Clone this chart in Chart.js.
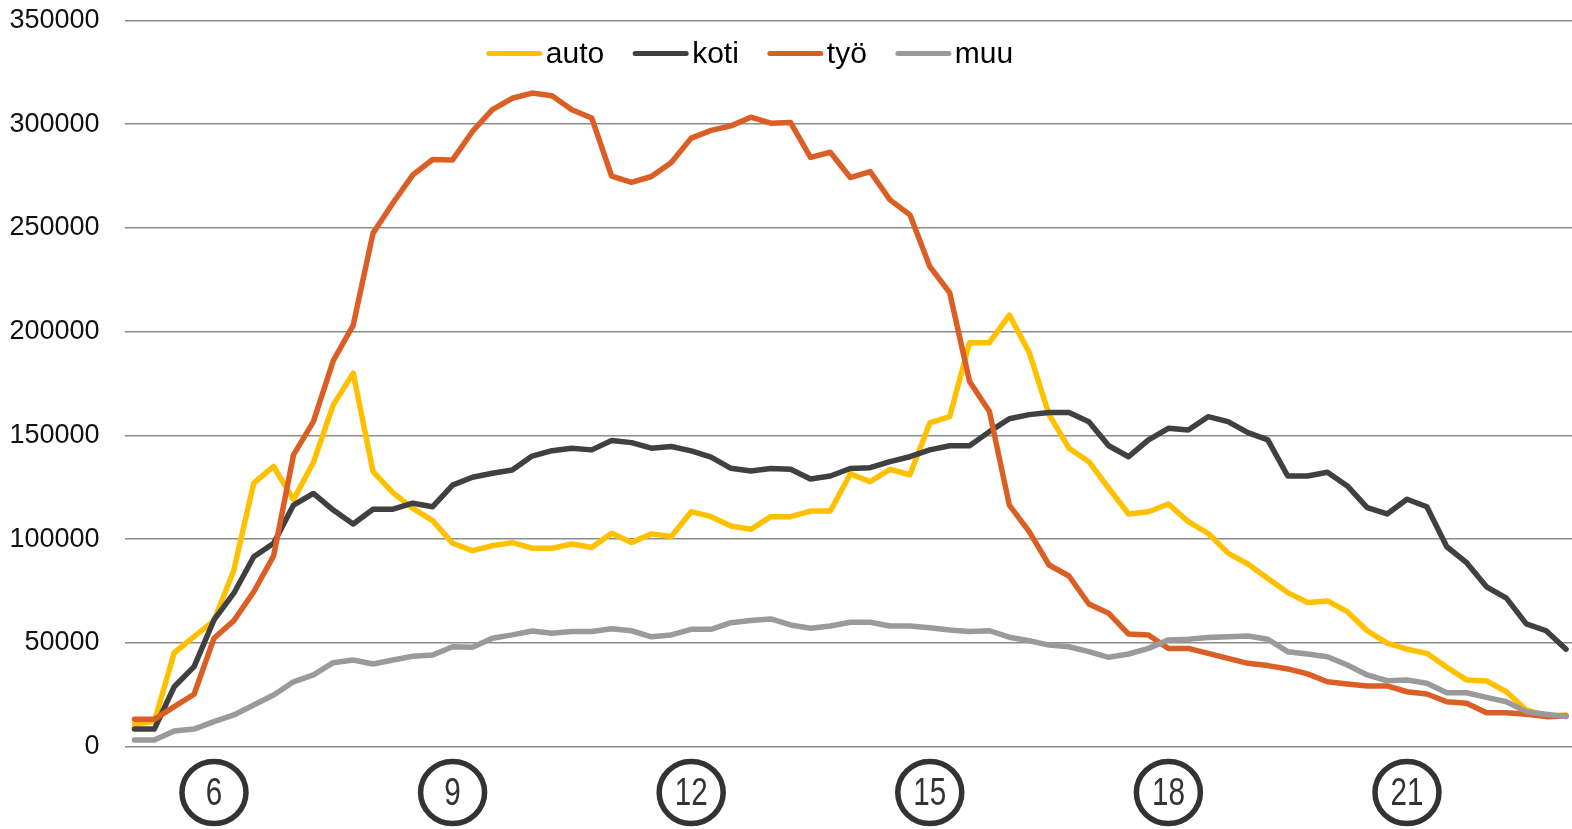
<!DOCTYPE html>
<html>
<head>
<meta charset="utf-8">
<script src="https://cdn.jsdelivr.net/npm/chart.js@4/dist/chart.umd.min.js"></script>
<style>
  html, body { margin: 0; padding: 0; background: #fff; overflow: hidden; }
  #wrap { width: 1576px; height: 829px; }
</style>
</head>
<body>
<div id="wrap"><canvas id="lineas"></canvas></div>
<script>
// 15 min välein klo 5:00 - 23:00
const aika = times();
const tunnit = ['6:00', '9:00', '12:00', '15:00', '18:00', '21:00'];
const nimet = ['auto', 'koti', 'työ', 'muu'];

const valores_auto = [10800,12000,45200,53000,60700,85000,127000,135000,119000,137000,
  164700,180000,132500,122400,114800,108900,98000,94400,96800,98300,
  95600,95600,97600,95900,102800,98300,102500,101200,113200,110800,
  106300,104700,110800,110800,113500,113500,131400,127700,133600,131000,
  156000,159000,194700,194700,208000,190000,160000,143800,137300,124500,
  112100,113200,116900,108400,102800,93200,88000,81000,74200,69400,
  70200,65000,55800,49800,46900,44900,38200,32100,31600,26400,
  17600,14700,15200];
const valores_koti = [8400,8400,28800,38500,61000,73900,91500,98000,116400,122000,
  114000,107300,114400,114400,117300,115600,126000,129800,131700,133300,
  140000,142600,143800,143000,147500,146500,143800,144600,142500,139500,
  134100,132800,134000,133700,129000,130400,134000,134400,137300,139700,
  143000,145000,145000,151800,158000,160000,161000,161000,156600,145000,
  139700,147800,153400,152600,159000,156600,151300,147800,130400,130400,
  132200,125600,115200,112100,119200,115600,96300,88600,77000,71500,
  59100,55800,46900];
const valores_tyo = [13100,13100,19200,25200,52200,60700,74600,91900,140600,156600,
  186000,203000,247500,262000,275600,283000,282800,296500,307000,312500,
  315000,313700,307000,303000,275000,272000,274800,281500,293300,297000,
  299200,303400,300500,300800,284000,286500,274300,277200,263500,256300,
  231400,218800,176000,161500,116400,103600,87500,82200,68700,64200,
  54200,53800,47200,47300,44900,42500,40100,39000,37400,35000,
  31200,30100,29200,29200,26400,25300,21600,20800,16300,16300,
  15500,14400,14700];
const valores_muu = [3100,3100,7500,8400,12000,15200,20000,24800,31200,34500,
  40400,41700,39800,41700,43500,44100,48100,47800,52200,53800,
  55700,54600,55400,55400,56800,55800,52900,53800,56500,56500,
  59700,60700,61500,58600,57000,58100,59900,59900,58100,58100,
  57300,56200,55400,55800,52700,51000,48900,48100,45700,43000,
  44600,47300,51400,51700,52500,52900,53300,51700,45700,44600,
  43300,39300,34500,31700,32100,30500,25900,25900,23700,21600,
  16800,15500,14400];

const colorAuto = '#FFC000';
const colorKoti = '#404040';
const colorTyo = '#DB5F25';
const colorMuu = '#9A9A9A';

function times() {
  const arr = [];
  for (let m = 5 * 60; m <= 23 * 60; m += 15) {
    const h = Math.floor(m / 60), mm = m % 60;
    arr.push(h + ':' + (mm < 10 ? '0' : '') + mm);
  }
  return arr;
}

function sarja(label, data, color, order) {
  return {
    label: label,
    data: data,
    borderColor: color,
    backgroundColor: color,
    borderWidth: 5.5,
    pointRadius: 0,
    tension: 0,
    fill: false,
    borderJoinStyle: 'round',
    borderCapStyle: 'round',
    order: order
  };
}

// selite piirretään kuvaajan päälle
const selite = {
  id: 'selite',
  afterDraw(chart) {
    const ctx = chart.ctx;
    ctx.save();
    ctx.font = '30px "Liberation Sans", Arial, sans-serif';
    ctx.textBaseline = 'middle';
    const lineLen = 55, gapText = 4, gapItem = 29;
    const items = chart.data.datasets;
    let total = 0;
    items.forEach((d, i) => {
      total += lineLen + gapText + ctx.measureText(d.label).width;
      if (i < items.length - 1) total += gapItem;
    });
    let x = 750 - total / 2;
    const y = 53.5;
    items.forEach(d => {
      ctx.strokeStyle = d.borderColor;
      ctx.lineWidth = 5;
      ctx.lineCap = 'round';
      ctx.beginPath();
      ctx.moveTo(x + 2, y);
      ctx.lineTo(x + lineLen - 2, y);
      ctx.stroke();
      x += lineLen + gapText;
      ctx.fillStyle = '#000';
      ctx.fillText(d.label, x, y + 1);
      x += ctx.measureText(d.label).width + gapItem;
    });
    ctx.restore();
  }
};

// tunnit ympyröityinä x-akselin alla
const ympyrat = {
  id: 'ympyrat',
  afterDraw(chart) {
    const ctx = chart.ctx;
    const xs = chart.scales.x;
    const base = chart.chartArea.bottom;
    ctx.save();
    tunnit.forEach(t => {
      const idx = aika.indexOf(t);
      const x = xs.getPixelForValue(idx);
      const y = base + 46;
      ctx.strokeStyle = '#333';
      ctx.lineWidth = 5.5;
      ctx.beginPath();
      ctx.ellipse(x, y, 32, 31, 0, 0, Math.PI * 2);
      ctx.stroke();
      ctx.fillStyle = '#333';
      ctx.font = '38px "Liberation Sans", Arial, sans-serif';
      ctx.textAlign = 'center';
      ctx.textBaseline = 'middle';
      ctx.save();
      ctx.translate(x, y + 2);
      ctx.scale(0.78, 1.0);
      ctx.fillText(t.split(':')[0], 0, 0);
      ctx.restore();
    });
    ctx.restore();
  }
};

const grafico = new Chart(document.getElementById('lineas'), {
  type: 'line',
  data: {
    labels: aika,
    datasets: [
      sarja(nimet[0], valores_auto, colorAuto, 3),
      sarja(nimet[1], valores_koti, colorKoti, 2),
      sarja(nimet[2], valores_tyo, colorTyo, 1),
      sarja(nimet[3], valores_muu, colorMuu, 0)
    ]
  },
  options: {
    responsive: true,
    maintainAspectRatio: false,
    devicePixelRatio: 1,
    animation: false,
    layout: { autoPadding: false, padding: { top: 20.5, bottom: 82.5, left: 0, right: 0 } },
    plugins: {
      legend: { display: false },
      tooltip: { enabled: false }
    },
    scales: {
      x: {
        offset: true,
        afterFit(scale) { scale.height = 0; },
        grid: { display: false },
        border: { display: false },
        ticks: { display: false }
      },
      y: {
        min: 0,
        max: 350000,
        afterFit(scale) { scale.width = 124.5; scale.paddingTop = 0; scale.paddingBottom = 0; },
        ticks: {
          stepSize: 50000,
          padding: 25,
          color: '#111',
          font: { family: '"Liberation Sans", Arial, sans-serif', size: 27 },
          callback: v => String(v)
        },
        grid: { color: '#8c8c8c', lineWidth: 1.6, drawTicks: false },
        border: { display: false }
      }
    }
  },
  plugins: [selite, ympyrat]
});
</script>
</body>
</html>
